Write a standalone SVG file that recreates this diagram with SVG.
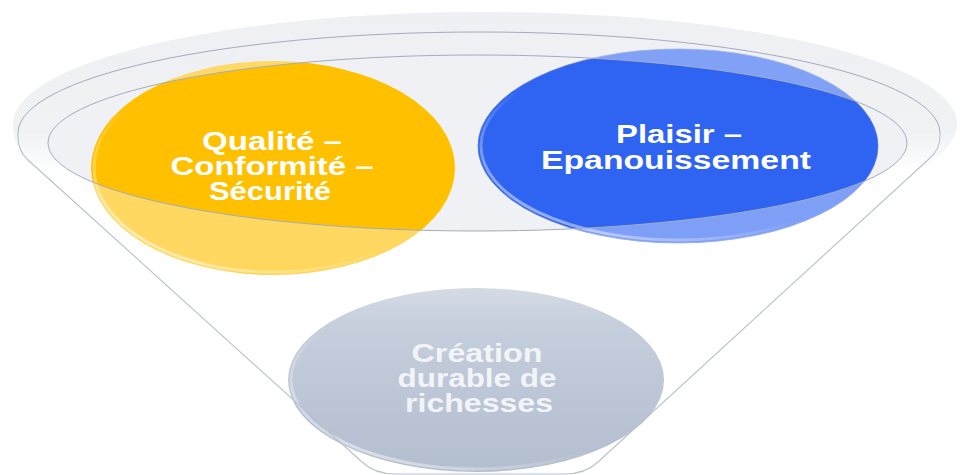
<svg xmlns="http://www.w3.org/2000/svg" width="960" height="475" viewBox="0 0 960 475">
<style>
.lbl { font-family: "Liberation Sans", Arial, sans-serif; font-weight: bold; font-size: 26px; fill: #ffffff; text-anchor: middle; }
.lbl-g { fill: #F1F3F6; }
.rimline { fill: none; stroke: #A2ACBF; stroke-width: 1; }
.cone { fill: none; stroke: #B8C1CF; stroke-width: 1.1; }
.hi { fill: none; stroke: url(#edgeHi); stroke-width: 3; }
</style>
<defs>
  <linearGradient id="rimGrad" gradientUnits="userSpaceOnUse" x1="0" y1="12" x2="0" y2="172">
    <stop offset="0" stop-color="#E3E6EB"/>
    <stop offset="0.75" stop-color="#E6E9ED"/>
    <stop offset="1" stop-color="#FFFFFF"/>
  </linearGradient>
  <linearGradient id="frontGrad" gradientUnits="userSpaceOnUse" x1="0" y1="0" x2="0" y2="475">
    <stop offset="0" stop-color="#ffffff" stop-opacity="0.4"/>
    <stop offset="0.55" stop-color="#ffffff" stop-opacity="0.38"/>
    <stop offset="0.68" stop-color="#ffffff" stop-opacity="0.12"/>
    <stop offset="1" stop-color="#ffffff" stop-opacity="0.12"/>
  </linearGradient>
  <linearGradient id="grayGrad" x1="0" y1="0" x2="0" y2="1">
    <stop offset="0" stop-color="#C5CEDB"/>
    <stop offset="0.5" stop-color="#B5C0D2"/>
    <stop offset="1" stop-color="#A9B5C8"/>
  </linearGradient>
  <linearGradient id="edgeHi" x1="0" y1="1" x2="1" y2="0">
    <stop offset="0" stop-color="#ffffff" stop-opacity="0.7"/>
    <stop offset="0.45" stop-color="#ffffff" stop-opacity="0"/>
  </linearGradient>
</defs>

<rect width="960" height="475" fill="#ffffff"/>

<g id="funnel-back">
  <path d="M 13,124 A 472 112 0 0 1 957,124 Q 956,142 935,160 L 924,172 L 38,172 L 25,160 Q 13,145 13,124 Z" fill="url(#rimGrad)"/>
  <ellipse cx="477.5" cy="143" rx="429.5" ry="88" fill="#F0F1F4"/>
</g>

<g id="node-qualite">
  <ellipse cx="273" cy="168" rx="182" ry="107" fill="#FFC000"/>
  <ellipse cx="273" cy="168" rx="179" ry="104" class="hi"/>
  <text class="lbl" x="272" y="150" textLength="140" lengthAdjust="spacingAndGlyphs">Qualité –</text>
  <text class="lbl" x="272" y="175" textLength="203" lengthAdjust="spacingAndGlyphs">Conformité –</text>
  <text class="lbl" x="270" y="200" textLength="122" lengthAdjust="spacingAndGlyphs">Sécurité</text>
</g>

<g id="node-plaisir">
  <ellipse cx="678" cy="146" rx="200" ry="97" fill="#2F64F2" stroke="#5A7BCF" stroke-width="0.8"/>
  <ellipse cx="678" cy="146" rx="197" ry="94" class="hi"/>
  <text class="lbl" x="679" y="143" textLength="126" lengthAdjust="spacingAndGlyphs">Plaisir –</text>
  <text class="lbl" x="676" y="169" textLength="270" lengthAdjust="spacingAndGlyphs">Epanouissement</text>
</g>

<g id="node-creation">
  <ellipse cx="476" cy="380" rx="188" ry="92" fill="url(#grayGrad)"/>
  <ellipse cx="476" cy="380" rx="185" ry="89" class="hi"/>
  <text class="lbl lbl-g" x="477" y="362" textLength="131" lengthAdjust="spacingAndGlyphs">Création</text>
  <text class="lbl lbl-g" x="477" y="387" textLength="159" lengthAdjust="spacingAndGlyphs">durable de</text>
  <text class="lbl lbl-g" x="479" y="412" textLength="148" lengthAdjust="spacingAndGlyphs">richesses</text>
</g>

<g id="funnel-front">
  <path fill="url(#frontGrad)" fill-rule="evenodd" d="M 13,124 A 472 112 0 0 1 957,124 Q 956,142 935,160 L 598,462 Q 585,474 565,474 L 395,474 Q 375,474 362,462 L 25,160 Q 13,145 13,124 Z M 48,143 A 429.5 88 0 1 0 907,143 A 429.5 88 0 1 0 48,143 Z"/>
</g>

<g id="connectors">
  <path class="rimline" d="M 18,133 A 461 101 0 0 1 940,133"/>
  <ellipse class="rimline" cx="477.5" cy="143" rx="429.5" ry="88"/>
  <path class="cone" d="M 18,133 Q 17,150 28,160 L 362,462 Q 375,474 395,474 L 565,474 Q 585,474 598,462 L 930,158 Q 941,148 940,133"/>
</g>
</svg>
